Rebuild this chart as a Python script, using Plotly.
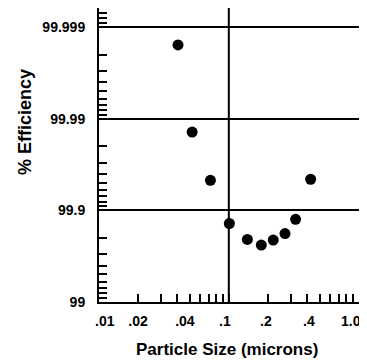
import numpy as np
import plotly.graph_objects as go

# Data
particle_size = [0.0406, 0.0522, 0.0722, 0.101, 0.139, 0.178, 0.220, 0.271, 0.327, 0.427]
efficiency = [99.99844, 99.98604, 99.9531, 99.861, 99.7925, 99.761, 99.789, 99.821, 99.875, 99.9543]

x_tick_vals = [0.01, 0.02, 0.04, 0.1, 0.2, 0.4, 1.0]
x_tick_text = [".01", ".02", ".04", ".1", ".2", ".4", "1.0"]
y_tick_eff = ["99", "99.9", "99.99", "99.999"]

# penetration scale (100 - efficiency) on a reversed log axis
penetration = [round(100 - e, 6) for e in efficiency]
y_tick_pen = [round(100 - float(t), 6) for t in y_tick_eff]

x_minor = [m * d for d in (0.01, 0.1) for m in range(2, 10)]
y_minor = [m * d for d in (0.1, 0.01, 0.001, 0.0001) for m in range(2, 10) if m * d >= 0.0006]

# small per-label nudges (non-breaking spaces) to mimic the hand-set labels;
# the last label (at the right edge) is drawn right-aligned to its tick instead
NB = "\u00a0"
lead = [3, 0, 4, 0, 0, 1]
trail = [0, 0, 0, 2, 1, 0]
x_tick_disp = [NB * a + t + NB * b for t, a, b in zip(x_tick_text[:-1], lead, trail)] + [""]

font_family = "Liberation Sans, Arial, Helvetica, sans-serif"

fig = go.Figure()
fig.add_trace(go.Scatter(
    x=particle_size, y=penetration, mode="markers",
    marker=dict(size=11, color="black"),
    showlegend=False,
))

fig.add_vline(x=0.1, line=dict(color="black", width=2))

# the page body adds an 8px offset, so the figure is sized to fill the rest
fig.update_layout(
    width=359, height=354,
    margin=dict(l=91, r=8, t=0, b=60, autoexpand=False),
    paper_bgcolor="white", plot_bgcolor="white",
    font=dict(family=font_family, size=14, color="black", weight="bold"),
    xaxis=dict(
        type="log", range=[-2, 0.003], automargin=False,
        tickmode="array", tickvals=x_tick_vals, ticktext=x_tick_disp,
        ticks="inside", ticklen=8, tickwidth=1.5, tickcolor="black",
        showgrid=False, zeroline=False,
        showline=True, linecolor="black", linewidth=2, mirror=False,
        ticklabelstandoff=5, ticklabeloverflow="allow",
        minor=dict(tickmode="array", tickvals=x_minor, ticks="inside",
                   ticklen=8, tickwidth=1.5, tickcolor="black", showgrid=False),
    ),
    yaxis=dict(
        type="log", range=[0, -3.21], automargin=False,
        tickmode="array", tickvals=y_tick_pen, ticktext=y_tick_eff,
        ticks="inside", ticklen=8, tickwidth=1.5, tickcolor="black",
        showgrid=True, gridcolor="black", gridwidth=2, zeroline=False,
        showline=True, linecolor="black", linewidth=2, mirror=True,
        ticklabelstandoff=9, ticklabeloverflow="allow",
        minor=dict(tickmode="array", tickvals=y_minor, ticks="inside",
                   ticklen=8, tickwidth=1.5, tickcolor="black", showgrid=False),
    ),
    annotations=[
        dict(text="% Efficiency", textangle=-90, xref="paper", yref="paper",
             x=-0.285, y=0.612, xanchor="center", yanchor="middle", showarrow=False,
             font=dict(size=18, weight="bold", family=font_family)),
        dict(text="Particle Size (microns)", xref="paper", yref="paper",
             x=0.493, y=-0.163, xanchor="center", yanchor="middle", showarrow=False,
             font=dict(size=17, weight="bold", family=font_family)),
        dict(text=x_tick_text[-1], xref="x", yref="paper",
             x=float(np.log10(x_tick_vals[-1])), y=0, xanchor="right", yanchor="middle",
             xshift=4, yshift=-19, showarrow=False,
             font=dict(size=14, weight="bold", family=font_family)),
    ],
)

fig.write_html("out.html")
